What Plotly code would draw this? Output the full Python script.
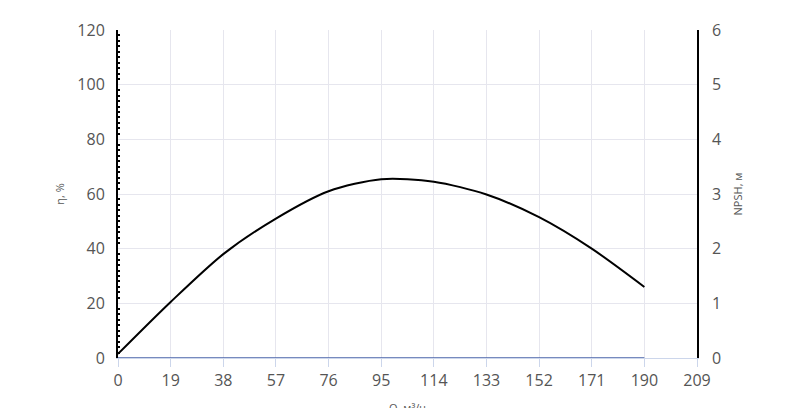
import plotly.graph_objects as go

q = [0, 19, 38, 57, 76, 95, 114, 133, 152, 171, 190]
eta = [1.5, 20.5, 38, 51, 61, 65.4, 64.5, 59.8, 51.5, 40, 26]
npsh = [0]*len(q)
xticks = [0, 19, 38, 57, 76, 95, 114, 133, 152, 171, 190, 209]

fig = go.Figure()
fig.add_trace(go.Scatter(x=q, y=eta, mode="lines", line=dict(color="black", width=2, shape="spline", smoothing=0.8), showlegend=False))
fig.add_trace(go.Scatter(x=q, y=npsh, mode="lines", line=dict(color="#4a63a8", width=1.5), yaxis="y2", showlegend=False))
font = dict(family="Open Sans", size=16, color="#555")
fig.update_layout(
    width=800, height=408, margin=dict(l=110, r=111, t=22, b=58, autoexpand=False),
    plot_bgcolor="white", paper_bgcolor="white", font=font,
    xaxis=dict(range=[0, 209], tickvals=xticks, showgrid=True, gridcolor="#e6e6ee", zeroline=False,
               showline=True, linecolor="#ccd6eb", ticks="outside", tickcolor="#ccd6eb", ticklen=8,
               automargin=False,
               title=dict(text="Q, м³/ч", font=dict(size=11, color="#555"), standoff=14)),
    yaxis=dict(range=[0, 120], dtick=20, showgrid=True, gridcolor="#e6e6ee", zeroline=False,
               showline=True, linecolor="black", linewidth=2, automargin=False, ticklabelstandoff=8,
               minor=dict(ticks="inside", dtick=2, ticklen=2, tickcolor="black", tickwidth=2, showgrid=False),
               title=dict(text="η, %", font=dict(size=11, color="#555"), standoff=10)),
    yaxis2=dict(range=[0, 6], dtick=1, overlaying="y", side="right", showgrid=False, zeroline=False,
                showline=True, linecolor="black", linewidth=1.5, automargin=False, ticklabelstandoff=10,
                title=dict(text="NPSH, м", font=dict(size=11, color="#555"), standoff=14)),
)
fig.write_html("out.html")
